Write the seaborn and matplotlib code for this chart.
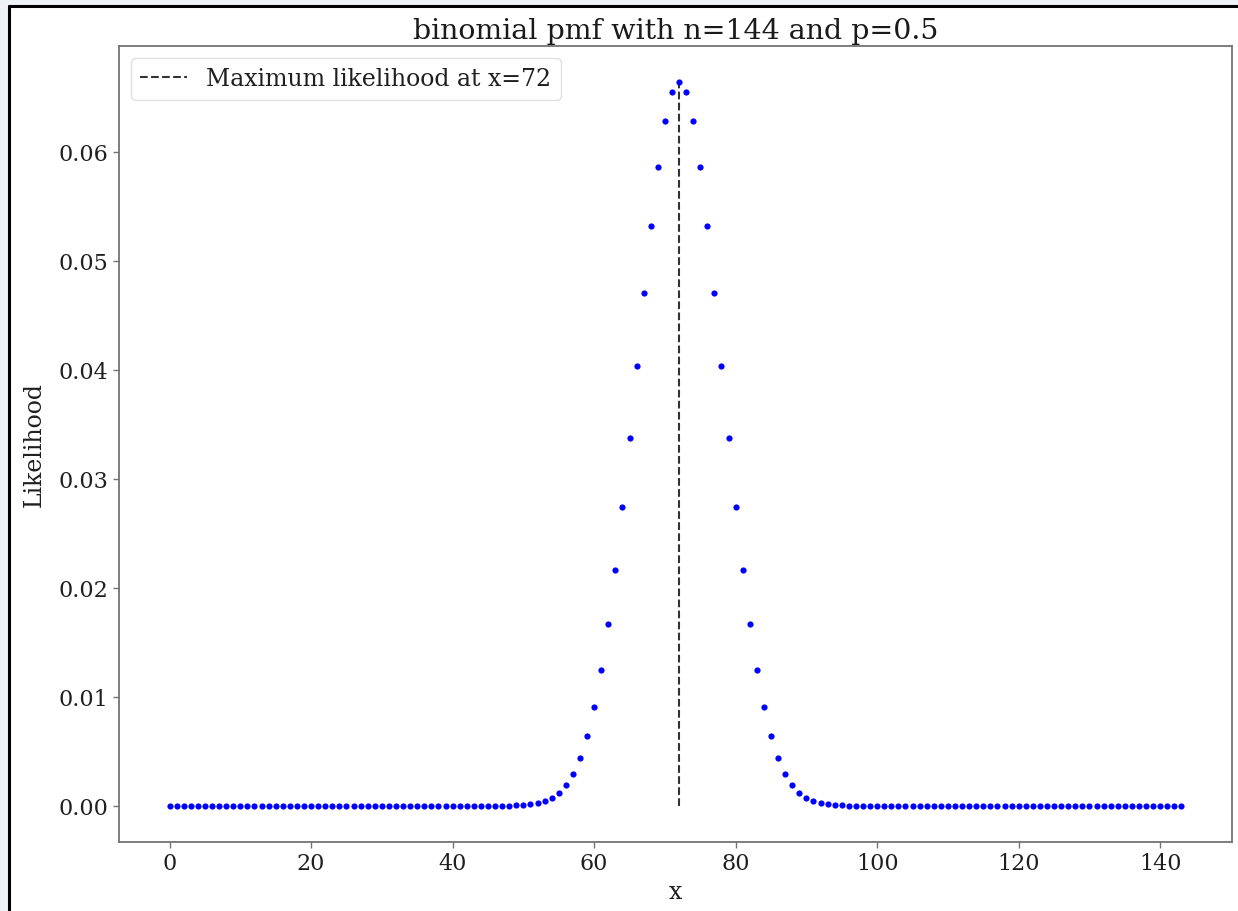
import matplotlib
matplotlib.use("Agg")
import matplotlib.pyplot as plt
import seaborn as sns
import pandas as pd
from matplotlib.patches import Rectangle
from matplotlib.lines import Line2D

# ---- data ----
x_values = list(range(144))
likelihood_left = [
    0.0, 0.0, 0.0, 0.0, 0.0, 0.0, 0.0, 0.0, 0.0, 0.0,
    0.0, 0.0, 0.0, 0.0, 0.0, 0.0, 0.0, 0.0, 0.0, 0.0,
    0.0, 0.0, 0.0, 0.0, 0.0, 0.0, 0.0, 0.0, 0.0, 0.0,
    0.0, 0.0, 0.0, 0.0, 0.0, 0.0, 0.0, 0.0, 0.0, 0.0,
    0.0, 0.0, 0.0, 0.0,
    0.000001, 0.000002, 0.000005, 0.000010, 0.000020, 0.000040, 0.000075,
    0.000139, 0.000248, 0.000431, 0.000726, 0.001188, 0.001887, 0.002914,
    0.004371, 0.006371, 0.009025, 0.012428, 0.016637, 0.021655, 0.027407,
    0.033731, 0.040375, 0.047004, 0.053225, 0.058625, 0.062812, 0.065466,
]
likelihood_right = [
    0.066375,
    0.065466, 0.062812, 0.058625, 0.053225, 0.047004, 0.040375, 0.033731,
    0.027407, 0.021655, 0.016637, 0.012428, 0.009025, 0.006371, 0.004371,
    0.002914, 0.001887, 0.001188, 0.000726, 0.000431, 0.000248, 0.000139,
    0.000075, 0.000040, 0.000020, 0.000010, 0.000005, 0.000002, 0.000001,
    0.0, 0.0, 0.0, 0.0, 0.0, 0.0, 0.0, 0.0, 0.0, 0.0,
    0.0, 0.0, 0.0, 0.0, 0.0, 0.0, 0.0, 0.0, 0.0, 0.0,
    0.0, 0.0, 0.0, 0.0, 0.0, 0.0, 0.0, 0.0, 0.0, 0.0,
    0.0, 0.0, 0.0, 0.0, 0.0, 0.0, 0.0, 0.0, 0.0, 0.0,
    0.0, 0.0, 0.0,
]
likelihood = likelihood_left + likelihood_right
max_x = 72
max_likelihood = 0.066375
x_ticks = [0, 20, 40, 60, 80, 100, 120, 140]
title_text = "binomial pmf with n=144 and p=0.5"
legend_text = "Maximum likelihood at x=72"

df = pd.DataFrame({"x": x_values, "Likelihood": likelihood})

sns.set_theme(style="white")
plt.rcParams["font.family"] = ["DejaVu Serif"]
plt.rcParams["axes.edgecolor"] = "0.45"
plt.rcParams["axes.linewidth"] = 1.3
plt.rcParams["xtick.color"] = "0.45"
plt.rcParams["ytick.color"] = "0.45"
plt.rcParams["xtick.labelcolor"] = "0.12"
plt.rcParams["ytick.labelcolor"] = "0.12"

fig = plt.figure(figsize=(12.38, 9.12), dpi=100)
fig.patch.set_facecolor("#eef1f6")
# white screenshot panel with black border on the left and top
W, H = 1238, 912
panel = Rectangle((9 / W, 0), 1 - 9 / W, 1 - 7 / H, transform=fig.transFigure,
                  facecolor="white", edgecolor="none", zorder=-10)
fig.add_artist(panel)
fig.add_artist(Line2D([9 / W, 9 / W], [0, 1 - 7 / H], transform=fig.transFigure,
                      color="black", lw=2.2, zorder=-5))
fig.add_artist(Line2D([9 / W, 1], [1 - 7 / H, 1 - 7 / H], transform=fig.transFigure,
                      color="black", lw=2.2, zorder=-5))

ax = fig.add_axes([119 / W, 1 - 843 / H, (1232 - 119) / W, (843 - 47) / H])
ax.set_zorder(1)
sns.scatterplot(data=df, x="x", y="Likelihood", ax=ax, color="blue", s=20,
                linewidth=0, marker="o", zorder=3)
ax.vlines(max_x, 0, max_likelihood, colors="0.2", linestyles="--", lw=1.5,
          label=legend_text, zorder=2)

ax.set_xticks(x_ticks)
ax.tick_params(axis="both", which="both", length=4, width=1, labelsize=16,
               bottom=True, left=True)
ax.set_title(title_text, fontsize=20.5, color="0.1")
ax.set_xlabel("x", fontsize=17, color="0.12")
ax.set_ylabel("Likelihood", fontsize=17, color="0.12", labelpad=9)
ax.legend(loc="upper left", fontsize=17, frameon=True, edgecolor="0.85",
          fancybox=True, labelcolor="0.12")

fig.savefig("out.png", dpi=100, facecolor=fig.get_facecolor())
